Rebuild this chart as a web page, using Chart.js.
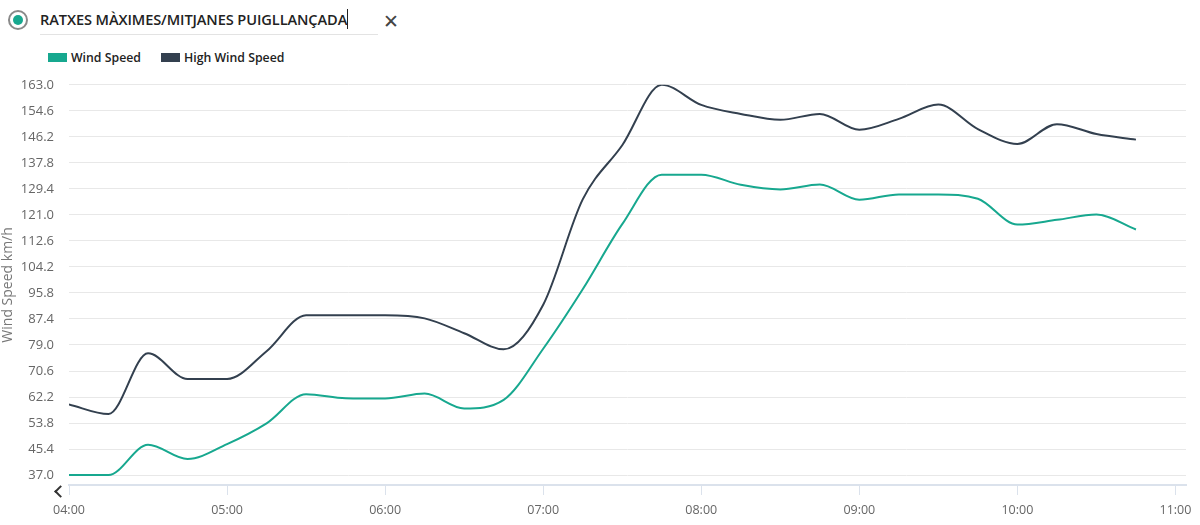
<!DOCTYPE html>
<html lang="ca">
<head>
    <meta charset="UTF-8">
    <title>Ratxes màximes/mitjanes Puigllançada</title>
    <script src="https://cdn.jsdelivr.net/npm/chart.js@4.4.1/dist/chart.umd.min.js"></script>
    <style>
        body {
            margin: 0;
            width: 1200px;
            height: 525px;
            position: relative;
            overflow: hidden;
            background: #ffffff;
            font-family: "Open Sans", Arial, sans-serif;
        }
        /* cap de la targeta: radio, títol editable i creu */
        .radio {
            position: absolute;
            left: 8px;
            top: 10px;
            width: 16px;
            height: 16px;
            border: 2px solid #8a8a8a;
            border-radius: 50%;
        }
        .radio::after {
            content: "";
            position: absolute;
            left: 3px;
            top: 3px;
            width: 10px;
            height: 10px;
            border-radius: 50%;
            background: #17a88f;
        }
        .title {
            position: absolute;
            left: 40px;
            top: 9px;
            width: 338px;
            height: 25px;
            border-bottom: 1px solid #e3e3e3;
            font-size: 14.6px;
            font-weight: 600;
            letter-spacing: -0.1px;
            color: #222;
            white-space: nowrap;
        }
        .title .cursor {
            display: inline-block;
            width: 1px;
            height: 20px;
            background: #222;
            vertical-align: -4px;
        }
        .close {
            position: absolute;
            left: 383px;
            top: 8px;
            font-size: 19px;
            color: #444;
        }
        /* llegenda */
        .legend {
            position: absolute;
            top: 49px;
            left: 48px;
            font-size: 12.3px;
            font-weight: 600;
            color: #222;
        }
        .legend span.item { margin-right: 20px; }
        .legend i {
            display: inline-block;
            width: 19px;
            height: 9px;
            margin-right: 4px;
        }
        .chevron {
            position: absolute;
            left: 56px;
            top: 487px;
            width: 7px;
            height: 7px;
            border-left: 2px solid #333;
            border-bottom: 2px solid #333;
            transform: rotate(45deg);
        }
        .chart-box {
            position: absolute;
            left: 0;
            top: 62px;
            width: 1200px;
            height: 463px;
        }
    </style>
</head>
<body>
    <div class="radio"></div>
    <div class="title">RATXES MÀXIMES/MITJANES PUIGLLANÇADA<span class="cursor"></span></div>
    <div class="close">✕</div>
    <div class="legend" id="legend"></div>
    <div class="chevron"></div>

    <div class="chart-box">
        <canvas id="windChart" width="1200" height="463"></canvas>
    </div>

    <script>
        // Dades llegides del gràfic (cada 15 minuts)
        const times = ['04:00', '04:15', '04:30', '04:45', '05:00', '05:15', '05:30', '05:45',
                       '06:00', '06:15', '06:30', '06:45', '07:00', '07:15', '07:30', '07:45',
                       '08:00', '08:15', '08:30', '08:45', '09:00', '09:15', '09:30', '09:45',
                       '10:00', '10:15', '10:30', '10:45'];
        const windSpeed = [37.0, 37.0, 46.8, 42.2, 47.0, 53.7, 63.1, 61.8,
                           61.7, 63.3, 58.5, 61.3, 77.8, 97.0, 118.0, 134.0,
                           134.0, 130.7, 129.2, 130.8, 125.9, 127.6, 127.6, 126.2,
                           117.9, 119.4, 121.1, 116.3];
        const highWindSpeed = [59.8, 56.7, 76.3, 68.0, 68.0, 77.0, 88.6, 88.6,
                               88.6, 87.6, 82.8, 77.6, 92.0, 126.0, 143.5, 163.0,
                               156.5, 153.6, 151.7, 153.6, 148.5, 152.0, 156.6, 148.7,
                               143.9, 150.3, 147.1, 145.3];
        const xTickLabels = ['04:00', '05:00', '06:00', '07:00', '08:00', '09:00', '10:00', '11:00'];
        const yTickValues = [37.0, 45.4, 53.8, 62.2, 70.6, 79.0, 87.4, 95.8,
                             104.2, 112.6, 121.0, 129.4, 137.8, 146.2, 154.6, 163.0];

        const seriesNames = ['Wind Speed', 'High Wind Speed'];
        const seriesColors = ['#17a88f', '#33404f'];

        // hh:mm -> minuts des de mitjanit
        const toMin = t => { const p = t.split(':'); return (+p[0]) * 60 + (+p[1]); };
        const fmt = m => String(Math.floor(m / 60)).padStart(2, '0') + ':' + String(m % 60).padStart(2, '0');

        const toPoints = arr => arr.map((v, i) => ({ x: toMin(times[i]), y: v }));

        // llegenda en HTML
        document.getElementById('legend').innerHTML = seriesNames.map((n, i) =>
            `<span class="item"><i style="background:${seriesColors[i]}"></i>${n}</span>`).join('');

        const ctx = document.getElementById('windChart').getContext('2d');
        new Chart(ctx, {
            type: 'line',
            data: {
                datasets: [
                    { label: seriesNames[0], data: toPoints(windSpeed), borderColor: seriesColors[0] },
                    { label: seriesNames[1], data: toPoints(highWindSpeed), borderColor: seriesColors[1] }
                ]
            },
            options: {
                responsive: false,
                animation: false,
                layout: { padding: { top: 10, right: 14, bottom: 0, left: 0 } },
                elements: {
                    line: { borderWidth: 2, cubicInterpolationMode: 'monotone', fill: false },
                    point: { radius: 0 }
                },
                plugins: {
                    legend: { display: false },
                    tooltip: { enabled: false }
                },
                scales: {
                    x: {
                        type: 'linear',
                        min: toMin(xTickLabels[0]),
                        max: 664,
                        afterBuildTicks: s => { s.ticks = xTickLabels.map(t => ({ value: toMin(t) })); },
                        afterFit: s => { s.height = 40; },
                        grid: { drawOnChartArea: false, drawTicks: true, tickLength: 10, color: '#dbe2ec' },
                        border: { display: true, color: '#dbe2ec', width: 2 },
                        ticks: {
                            padding: 8,
                            maxRotation: 0,
                            color: '#666',
                            font: { family: 'Open Sans', size: 12.5 },
                            callback: v => fmt(v)
                        }
                    },
                    y: {
                        min: 33.8,
                        max: 163.0,
                        afterBuildTicks: s => { s.ticks = yTickValues.map(v => ({ value: v })); },
                        afterFit: s => { s.width = 69; },
                        grid: { color: '#e8e8e8', drawTicks: false, lineWidth: 1 },
                        border: { display: false },
                        ticks: {
                            padding: 15,
                            color: '#666',
                            font: { family: 'Open Sans', size: 13 },
                            callback: v => v.toFixed(1)
                        },
                        title: {
                            display: true,
                            text: 'Wind Speed km/h',
                            color: '#777',
                            padding: { top: 0, bottom: 0 },
                            font: { family: 'Open Sans', size: 14 }
                        }
                    }
                }
            }
        });
    </script>
</body>
</html>
